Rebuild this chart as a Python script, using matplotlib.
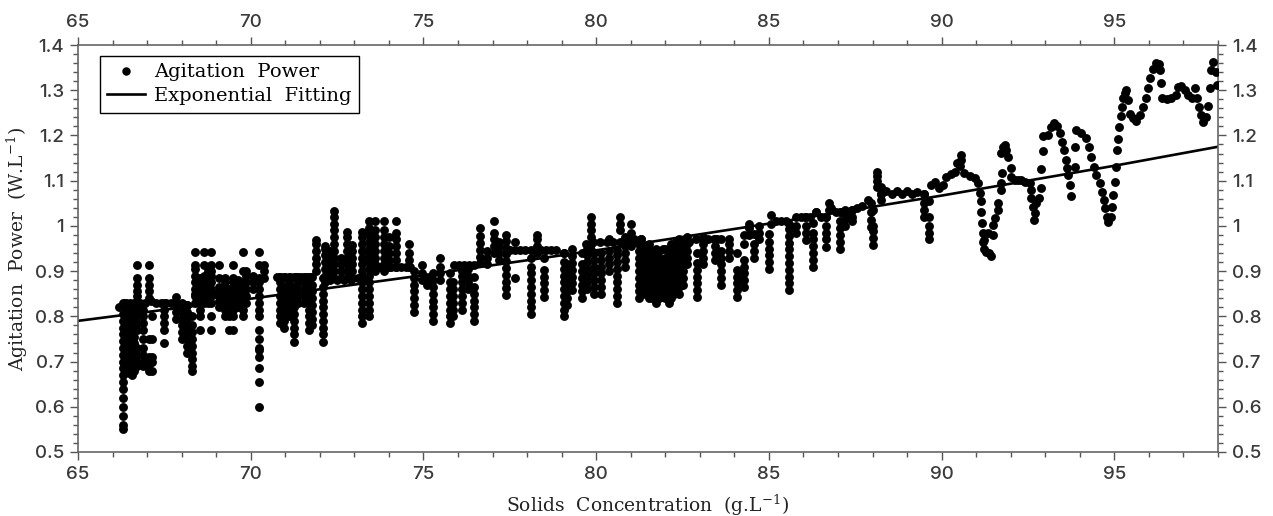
import matplotlib
matplotlib.use('Agg')
import matplotlib.pyplot as plt
from matplotlib.ticker import MultipleLocator

plt.rcParams['mathtext.fontset'] = 'dejavuserif'
plt.rcParams['font.family'] = 'Inter'
plt.rcParams['font.weight'] = 'medium'

# vertical runs of points
stem1_x = [66.3, 66.38, 66.47, 66.55, 66.63, 66.72, 66.87, 67.05, 67.13, 67.5, 67.84, 68.0, 68.15, 68.29]
stem1_y = [
    [.55, .56, .58, .6, .62, .64, .655, .67, .685, .7, .715, .73, .745, .76, .775, .79, .805, .82, .83],
    [.68, .695, .71, .725, .74, .755, .77, .785, .80, .815, .83],
    [.675, .69, .705, .72, .735, .75, .765, .78, .795, .81, .825],
    [.67, .69, .70, .715, .73, .745, .76, .775, .79, .805, .82],
    [.68, .695, .71, .725, .74, .755, .77, .785, .80, .815, .83],
    [.69, .70, .715, .73, .77, .785, .80, .815, .83, .845, .855, .87, .884, .913],
    [.69, .70, .715, .73, .75, .77, .785, .80, .815],
    [.68, .695, .71, .75, .84, .855, .87, .884, .913],
    [.68, .70, .71, .75, .80],
    [.742, .77, .785, .80, .815, .83],
    [.795, .81, .825, .843],
    [.75, .765, .78, .795, .81, .825],
    [.72, .735, .75, .765, .78, .795, .81, .825],
    [.68, .69, .705, .72, .735, .75, .765, .78, .80],
]
stem2_x = [68.39, 68.54, 68.65, 68.75, 68.85, 69.08, 69.26, 69.36, 69.5, 69.62, 69.77, 69.86, 70.08, 70.25, 70.37]
stem2_y = [
    [.83, .845, .86, .875, .89, .905, .913, .943],
    [.77, .80, .815, .83, .845, .86, .875, .884],
    [.83, .845, .86, .875, .89, .913, .943],
    [.83, .845, .86, .875, .89, .90],
    [.77, .80, .83, .845, .86, .875, .89, .90, .913, .943],
    [.82, .835, .85, .865, .884, .913],
    [.80, .815, .83, .845, .86, .875, .884],
    [.77, .80, .815, .83, .845, .86],
    [.77, .80, .815, .83, .845, .86, .875, .884, .913],
    [.82, .835, .85, .865, .88],
    [.80, .815, .83, .845, .86, .875, .90, .943],
    [.83, .845, .86, .875, .89, .90],
    [.86, .875, .89],
    [.60, .655, .685, .71, .725, .73, .75, .77, .80, .815, .83, .845, .86, .875, .884, .913, .943],
    [.884, .90, .913],
]
stem3_x = [70.85, 70.97, 71.1, 71.24, 71.38, 71.55, 71.68, 71.78, 71.89, 72.1, 72.16, 72.3, 72.42, 72.6, 72.8, 72.94, 73.22, 73.41, 73.6, 73.85, 74.0, 74.2, 74.57]
stem3_y = [
    [.785, .80, .815, .83, .845, .86, .875, .886],
    [.775, .79, .805, .82, .835, .85, .865, .886],
    [.80, .815, .83, .845, .86, .875, .886],
    [.744, .76, .775, .79, .805, .82, .835, .85, .865, .886],
    [.83, .845, .86, .875, .886],
    [.83, .845, .86, .875, .886],
    [.77, .785, .80, .815, .83, .845, .86, .875, .886],
    [.78, .795, .81, .825, .84, .855, .87, .886],
    [.90, .915, .93, .945, .96, .968],
    [.744, .76, .775, .79, .805, .82, .835, .85, .865],
    [.875, .89, .905, .92, .935, .95, .955],
    [.885, .90, .915, .93, .945],
    [.885, .90, .915, .93, .945, .96, .975, .99, 1.005, 1.02, 1.033],
    [.885, .90, .915, .93],
    [.885, .90, .915, .93, .945, .96, .975, .987],
    [.885, .90, .915, .93, .945, .958],
    [.785, .80, .815, .83, .845, .86, .875, .888, .90, .915, .93, .945, .96, .975, .987],
    [.80, .815, .83, .845, .86, .875, .89, .905, .92, .935, .95, .965, .98, .995, 1.01],
    [.90, .915, .93, .945, .96, .975, .99, 1.01],
    [.90, .915, .93, .945, .96, .975, .99, 1.01],
    [.91, .925, .94, .955, .975],
    [.91, .925, .94, .955, .97, .985, 1.01],
    [.91, .925, .94, .96],
]
stem4_x = [74.74, 74.96, 75.1, 75.27, 75.49, 75.76, 75.85, 76.12, 76.3, 76.47, 76.65, 76.85, 77.03, 77.18, 77.4, 77.66, 78.1, 78.29, 78.48, 79.06, 79.15, 79.3, 79.6]
stem4_y = [
    [.81, .825, .84, .855, .87, .885, .90],
    [.88, .895, .913],
    [.87, .885],
    [.79, .805, .82, .835, .85, .865, .88, .895],
    [.88, .895, .91, .93],
    [.785, .80, .815, .83, .845, .86, .875, .895],
    [.80, .815, .83, .845, .86, .875],
    [.814, .83, .845, .86, .875, .89, .90],
    [.86, .875, .89, .905],
    [.79, .805, .82, .835, .85, .865, .888],
    [.917, .932, .947, .962, .977, .995],
    [.915, .93, .945],
    [.94, .955, .97, .985, 1.01],
    [.925, .94, .955, .965],
    [.847, .862, .877, .892, .907, .922, .937, .952, .967, .98],
    [.884, .965],
    [.806, .82, .835, .85, .865, .88, .895, .91, .928],
    [.94, .955, .97, .98],
    [.843, .858, .873, .888, .903, .93],
    [.80, .815, .83, .845, .86, .875, .89, .905, .92, .94],
    [.825, .84, .855, .87, .885, .90, .915],
    [.858, .873, .888, .903, .918, .933, .95],
    [.84, .855, .87, .885, .90, .915, .94],
]
stem5_x = [79.72, 79.84, 79.94, 80.13, 80.37, 80.6, 80.7, 80.82, 81.0, 81.3, 81.52, 81.72, 81.92, 82.1, 82.25, 82.4, 82.64, 82.93, 83.08, 83.45, 83.62, 83.85, 84.07, 84.28, 84.43, 84.57, 84.72, 85.0, 85.05, 85.58, 85.78]
stem5_y = [
    [.86, .875, .89, .905, .92, .935, .95],
    [.947, .96, .975, .99, 1.005, 1.02],
    [.85, .865, .88, .895, .91, .925, .94],
    [.85, .865, .88, .895, .91, .925, .94],
    [.90, .915, .93, .945, .97],
    [.83, .845, .86, .875, .89, .905, .92, .935, .947],
    [.99, 1.005, 1.02],
    [.91, .925, .94, .955, .975],
    [.955, .97, .985, 1.005],
    [.85, .865, .88, .895, .91, .925, .94, .955, .97],
    [.84, .855, .87, .885, .90, .915, .93, .945, .96],
    [.83, .845, .86, .875, .89, .905, .92, .935, .95],
    [.85, .865, .88, .895, .91, .925, .95],
    [.83, .845, .86, .875, .89, .905, .92, .935, .95],
    [.85, .865, .88, .895, .91],
    [.85, .865, .88, .895, .91, .925, .94, .955, .97],
    [.915, .93, .945, .96, .975],
    [.843, .858, .873, .888, .903, .918, .94],
    [.915, .93, .945, .96, .975],
    [.925, .94, .955, .972],
    [.87, .885, .90, .915, .93, .945, .97],
    [.93, .945, .96, .972],
    [.843, .858, .873, .888, .903, .94],
    [.865, .88, .895, .91, .925, .96, .98],
    [.98, .995, 1.005],
    [.93, .945, .96, .983],
    [.97, .985, 1.0],
    [.905, .92, .935, .95, .965, .983],
    [1.024, 1.005],
    [.858, .873, .888, .903, .918, .933, .948, .963, .978, .993, 1.005],
    [.985, 1.0, 1.02],
]
stem6_x = [86.07, 86.27, 86.36, 86.65, 86.75, 87.06, 87.19, 87.4, 87.95, 88.0, 88.13, 88.25, 89.5, 89.62]
stem6_y = [
    [.969, .985, 1.0, 1.02],
    [.91, .925, .94, .955, .97, .985, 1.006],
    [1.03],
    [.954, .97, .985, 1.0, 1.02],
    [1.035, 1.05],
    [.95, .965, .98, .995, 1.01, 1.03],
    [1.0, 1.015, 1.035],
    [1.01, 1.02, 1.035],
    [.998, 1.013, 1.03, 1.05],
    [.958, .973, .988, 1.0, 1.035],
    [1.087, 1.1, 1.11, 1.12],
    [1.057, 1.07, 1.087],
    [1.02, 1.035, 1.05, 1.07],
    [.97, .985, 1.0, 1.02, 1.056],
]
# the thick block just after 81
stem7_x = [81.25, 81.4, 81.62, 81.82, 82.0, 82.18, 82.32, 82.5]
stem7_y = [
    [.84, .855, .87, .885, .90, .915, .93, .945, .96],
    [.85, .865, .88, .895, .91, .925, .94, .955],
    [.84, .855, .87, .885, .90, .915, .93, .945],
    [.84, .855, .87, .885, .90, .915, .93, .945],
    [.84, .855, .87, .885, .90, .915, .93, .95],
    [.84, .855, .87, .885, .90, .915, .93, .945, .96],
    [.86, .875, .89, .905, .92, .935, .95, .965],
    [.87, .885, .90, .915, .93, .945, .96],
]

# flat runs of points
band_x = [66.2, 66.35, 66.5, 66.65, 66.8, 66.95, 67.1, 67.25, 67.4, 67.55, 67.7, 67.85, 68.0, 68.15,
          68.4, 68.6, 68.8, 69.0, 69.2, 69.4,
          70.75, 70.85, 71.0, 71.15, 71.3, 71.45, 71.6, 71.72,
          72.1, 72.3, 72.5, 72.7, 72.9, 73.1,
          73.75, 73.9, 74.05, 74.2, 74.35, 74.5, 74.6,
          75.88, 76.03, 76.18, 76.33, 76.45,
          77.5, 77.65, 77.8, 77.95, 78.1, 78.25, 78.4, 78.55, 78.7, 78.85, 79.06,
          79.7, 79.9, 80.1, 80.3, 80.5, 80.7, 80.9, 81.1, 81.3,
          82.3, 82.5, 82.7, 82.9, 83.1, 83.25, 83.4, 83.5,
          85.2, 85.35, 85.5, 85.93, 86.05, 86.2, 86.35, 86.5, 86.65, 86.8, 86.95, 87.1,
          87.25, 87.4, 87.55, 87.7, 87.86,
          88.25, 88.4, 88.55, 88.7, 88.85, 89.0, 89.15, 89.3, 89.5]
band_y = [.82, .83, .83, .83, .83, .83, .835, .83, .83, .83, .83, .83, .83, .825,
          .85, .85, .85, .85, .85, .85,
          .886, .886, .886, .886, .886, .886, .886, .886,
          .885, .88, .88, .88, .88, .885,
          .91, .91, .91, .91, .91, .91, .91,
          .913, .913, .913, .913, .913,
          .947, .947, .947, .947, .947, .947, .947, .947, .947, .947, .94,
          .96, .965, .965, .965, .965, .965, .965, .97, .97,
          .965, .965, .965, .97, .972, .972, .972, .972,
          1.01, 1.01, 1.01, 1.02, 1.02, 1.02, 1.03, 1.02, 1.02, 1.04, 1.03, 1.03,
          1.025, 1.035, 1.04, 1.045, 1.057,
          1.07, 1.078, 1.07, 1.078, 1.07, 1.078, 1.07, 1.075, 1.07]

# the single trace after about 89.7
curve_x = [89.70, 89.81, 89.91, 90.04, 90.13, 90.28, 90.39, 90.45, 90.55, 90.55, 90.52, 90.64, 90.81, 90.97, 91.05,
           91.12, 91.13, 91.15, 91.18, 91.20, 91.22, 91.20, 91.22, 91.29, 91.36, 91.42, 91.34, 91.48, 91.48, 91.55,
           91.63, 91.63, 91.71, 91.73, 91.75, 91.73, 91.77, 91.84, 91.87, 91.92, 92.0, 92.02, 92.11, 92.21, 92.31,
           92.40, 92.55, 92.60, 92.60, 92.64, 92.69, 92.66, 92.74, 92.81, 92.87, 92.87, 92.93, 92.93, 93.08, 93.16,
           93.25, 93.35, 93.42, 93.48, 93.54, 93.61, 93.63, 93.66, 93.71, 93.75, 93.85, 93.85, 93.90, 94.04, 94.19,
           94.26, 94.33, 94.41, 94.48, 94.58, 94.64, 94.69, 94.74, 94.79, 94.82, 94.89, 94.93, 94.97, 95.03, 95.06,
           95.09, 95.11, 95.14, 95.18, 95.22, 95.25, 95.30, 95.35, 95.40, 95.45, 95.54, 95.64, 95.74, 95.83, 95.91,
           95.98, 96.04, 96.12, 96.20, 96.29, 96.31, 96.36, 96.38, 96.51, 96.65, 96.77, 96.85, 96.94, 97.04, 97.14,
           97.25, 97.33, 97.38, 97.45, 97.50, 97.57, 97.64, 97.70, 97.76, 97.81, 97.86, 97.94, 97.98]
curve_y = [1.090, 1.098, 1.083, 1.090, 1.109, 1.114, 1.120, 1.138, 1.157, 1.146, 1.132, 1.116, 1.110, 1.107, 1.094,
           1.072, 1.054, 1.031, 1.007, .984, .969, .965, .950, .943, .939, .933, .984, .980, 1.002, 1.017,
           1.035, 1.050, 1.079, 1.094, 1.116, 1.162, 1.175, 1.179, 1.168, 1.153, 1.127, 1.109, 1.101, 1.101, 1.101,
           1.098, 1.094, 1.079, 1.061, 1.042, 1.028, 1.014, 1.05, 1.061, 1.083, 1.125, 1.165, 1.199, 1.201, 1.218,
           1.228, 1.221, 1.205, 1.186, 1.168, 1.146, 1.127, 1.112, 1.090, 1.065, 1.131, 1.174, 1.212, 1.205, 1.194,
           1.175, 1.153, 1.131, 1.112, 1.094, 1.076, 1.057, 1.039, 1.020, 1.009, 1.020, 1.042, 1.068, 1.098, 1.131,
           1.168, 1.192, 1.219, 1.243, 1.264, 1.282, 1.293, 1.30, 1.278, 1.247, 1.238, 1.233, 1.245, 1.264, 1.282,
           1.304, 1.326, 1.348, 1.361, 1.359, 1.345, 1.315, 1.282, 1.281, 1.282, 1.289, 1.308, 1.31, 1.30, 1.289,
           1.282, 1.304, 1.282, 1.264, 1.245, 1.23, 1.241, 1.266, 1.306, 1.345, 1.363, 1.34, 1.312]

# fitted line
fit_x = [65, 70, 75, 80, 85, 90, 95, 98]
fit_y = [.79, .839, .891, .946, 1.005, 1.067, 1.133, 1.175]

y_ticks = [.5, .6, .7, .8, .9, 1, 1.1, 1.2, 1.3, 1.4]
y_labels = ['0.5', '0.6', '0.7', '0.8', '0.9', '1', '1.1', '1.2', '1.3', '1.4']
x_ticks = [65, 70, 75, 80, 85, 90, 95]

xs = list(band_x)
ys = list(band_y)
for sx, sy in [(stem1_x, stem1_y), (stem2_x, stem2_y), (stem3_x, stem3_y), (stem4_x, stem4_y),
               (stem5_x, stem5_y), (stem6_x, stem6_y), (stem7_x, stem7_y)]:
    for x, col in zip(sx, sy):
        xs += [x] * len(col)
        ys += col
xs += curve_x
ys += curve_y

fig = plt.figure(figsize=(12.73, 5.16), dpi=100)
ax = fig.add_axes([78 / 1273, 1 - 452 / 516, 1140 / 1273, 407 / 516])

ax.plot(xs, ys, 'o', color='black', ms=6.4, mew=0, label='Agitation  Power', zorder=3)
ax.plot(fit_x, fit_y, color='black', lw=1.9, label='Exponential  Fitting', zorder=2)

ax.set_xlim(65, 98)
ax.set_ylim(0.5, 1.4)
ax.set_xticks(x_ticks)
ax.set_yticks(y_ticks)
ax.set_yticklabels(y_labels)
ax.xaxis.set_minor_locator(MultipleLocator(1))
ax.yaxis.set_minor_locator(MultipleLocator(0.02))

grey = '#3a3a3a'
ax.tick_params(which='major', length=6, width=1, color='#555555', top=True, right=True,
               labeltop=True, labelright=True, labelsize=13.5, labelcolor=grey, pad=4)
ax.tick_params(which='minor', length=3.5, width=1, color='#555555', top=True, right=True)
for side in ax.spines.values():
    side.set_color('#666666')
    side.set_linewidth(1.2)

ax.set_xlabel('Solids  Concentration  (g.L$^{-1}$)', family='DejaVu Serif', weight='normal', fontsize=13.5, color='#222222', labelpad=7)
ax.set_ylabel('Agitation  Power  (W.L$^{-1}$)', family='DejaVu Serif', weight='normal', fontsize=13.5, color='#222222', labelpad=3)

leg = ax.legend(loc='upper left', bbox_to_anchor=(22 / 1140, 1 - 11 / 407), borderaxespad=0, fancybox=False,
                framealpha=1, edgecolor='black', prop={'family': 'DejaVu Serif', 'size': 14, 'weight': 'normal'},
                handlelength=1.95, handletextpad=0.45, labelspacing=0.3, borderpad=0.38, markerscale=0.95)
leg.get_frame().set_linewidth(1)

fig.savefig('out.png', dpi=100)
